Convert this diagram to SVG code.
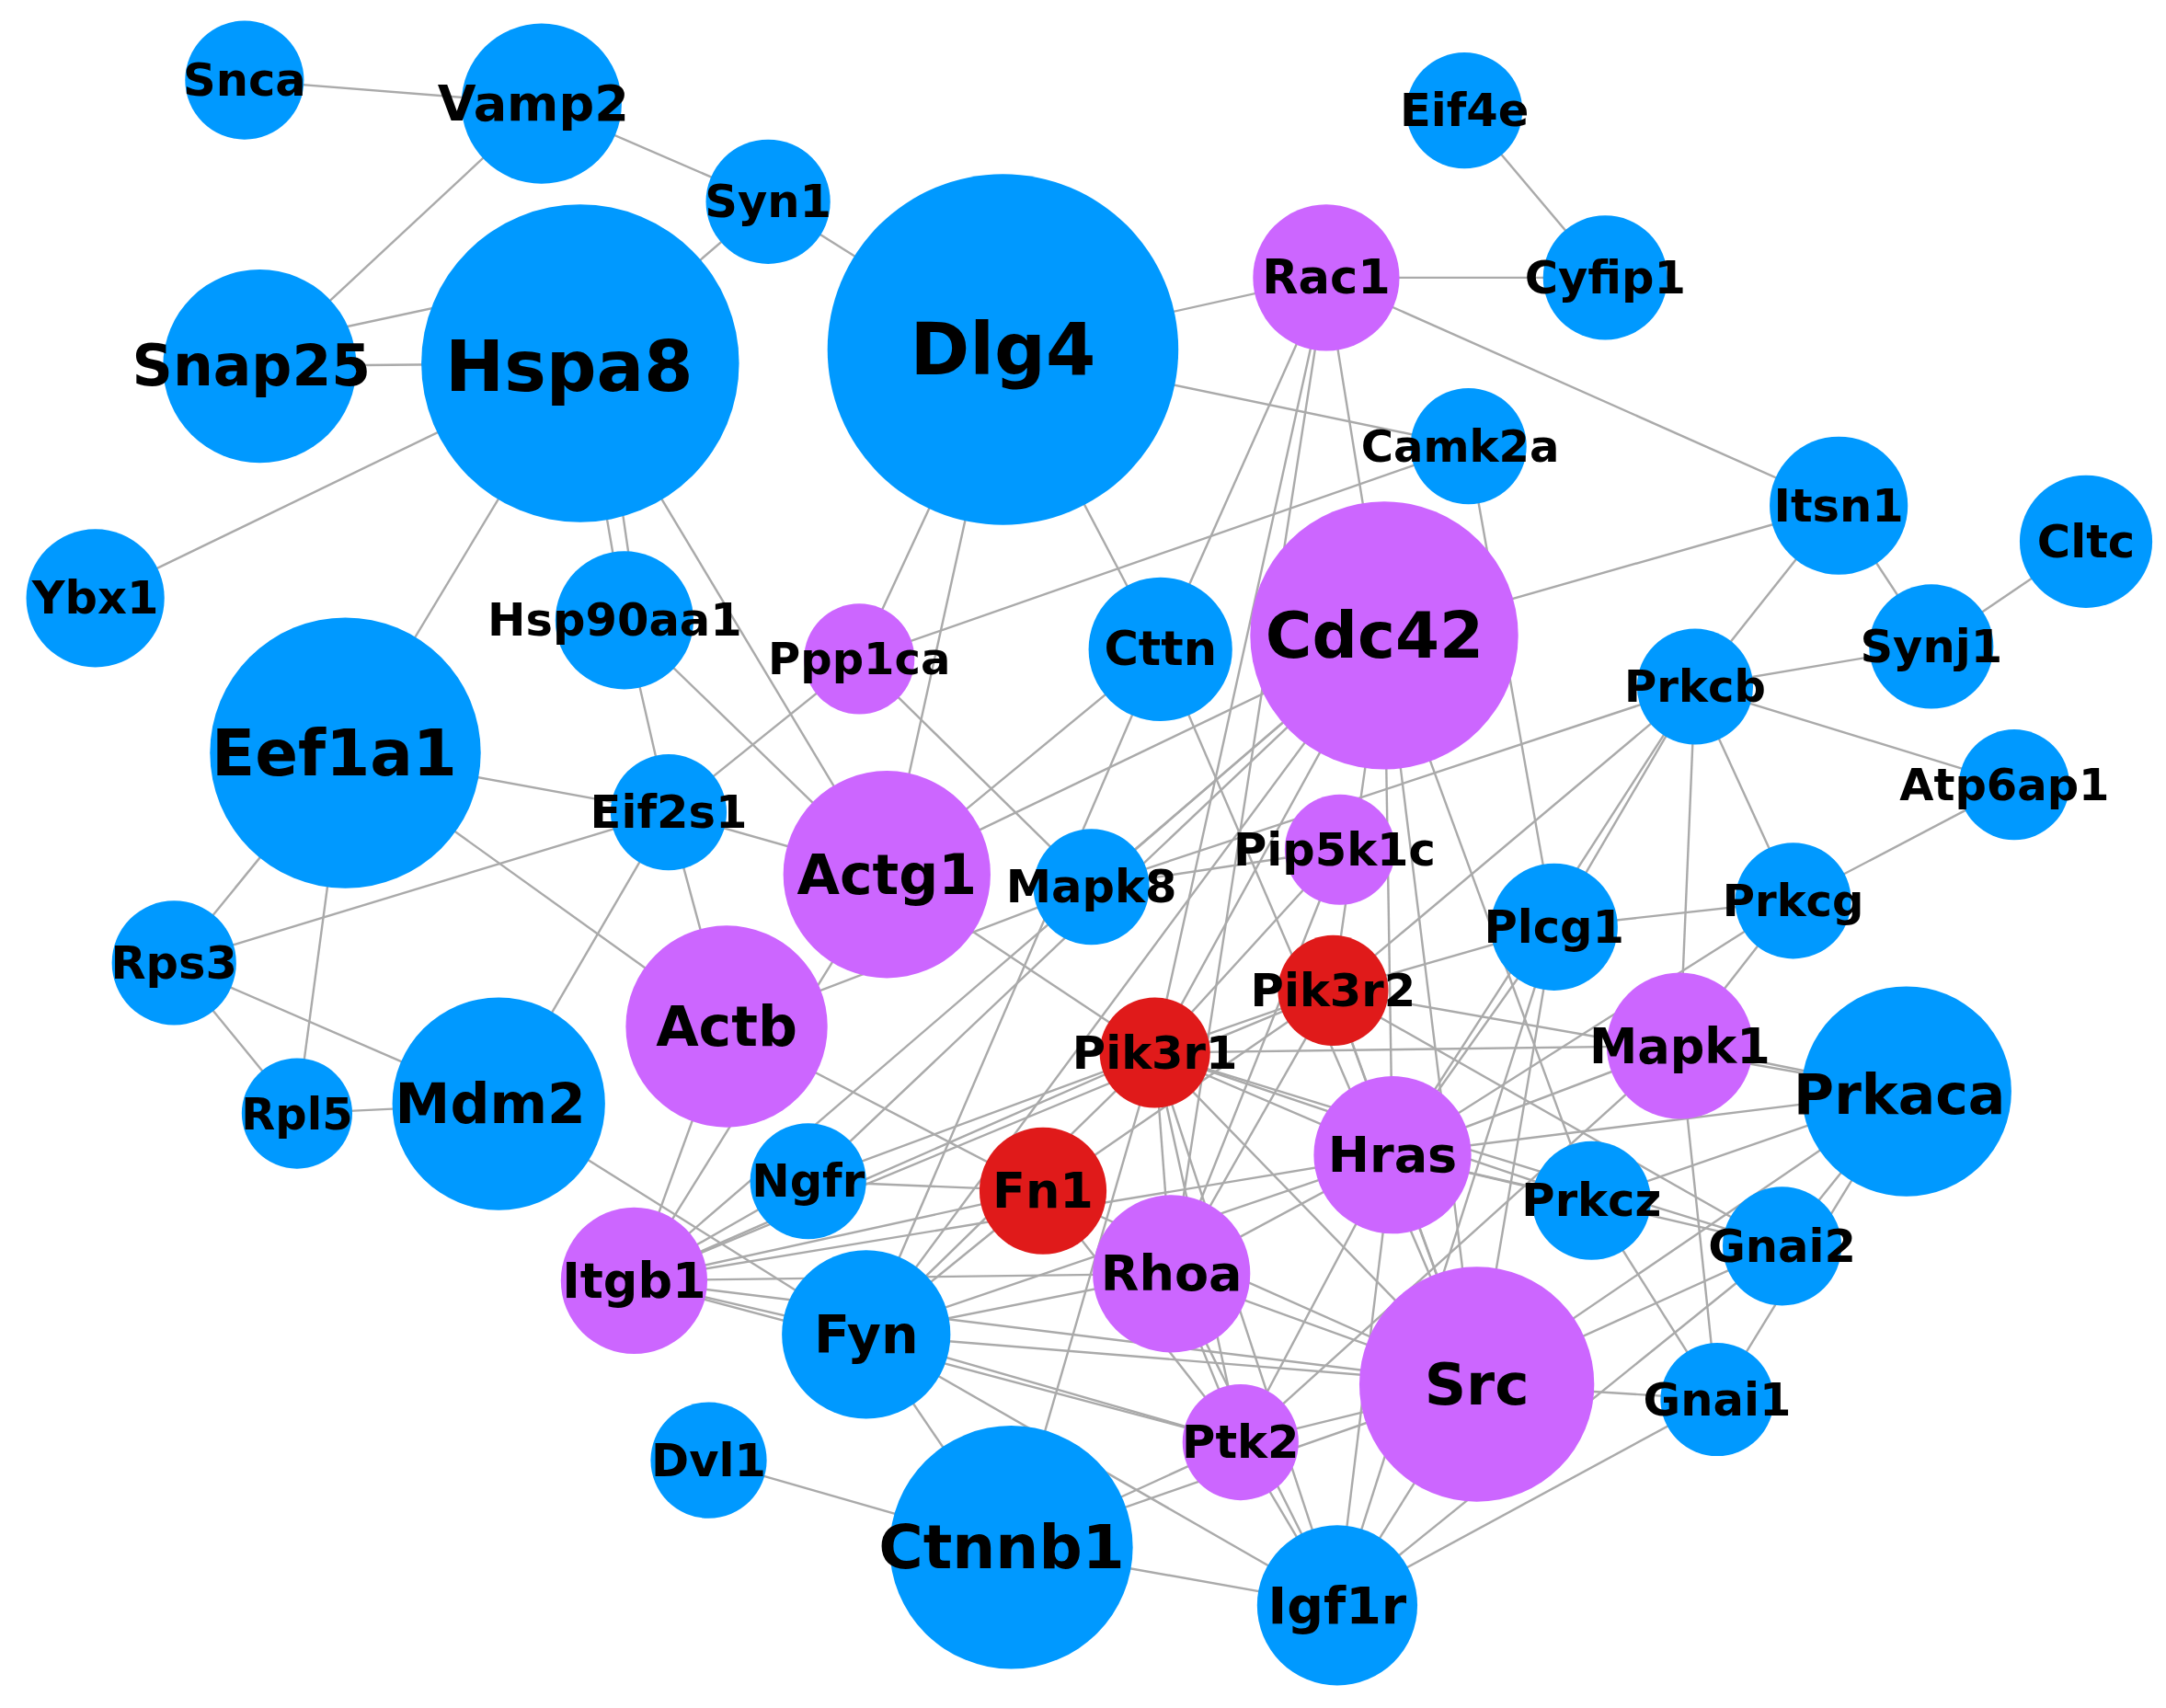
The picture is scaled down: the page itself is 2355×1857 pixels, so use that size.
<svg xmlns="http://www.w3.org/2000/svg" width="2355" height="1857" viewBox="0 0 2355 1857">
<style>
.b{fill:#0099ff}.p{fill:#cc66ff}.r{fill:#e01a1a}
text{font-family:"DejaVu Sans",sans-serif;font-weight:bold;fill:#000;text-anchor:middle;dominant-baseline:central}
#edges line{stroke:#aaaaaa;stroke-width:1.6}
</style>
<rect width="2355" height="1857" fill="#fff"/>
<g transform="scale(1.502)">
<g id="edges">
<line x1="177" y1="58" x2="392" y2="75"/><line x1="392" y1="75" x2="556" y2="146"/><line x1="392" y1="75" x2="188" y2="265"/>
<line x1="556" y1="146" x2="420" y2="263"/><line x1="556" y1="146" x2="726" y2="253"/><line x1="188" y1="265" x2="420" y2="263"/>
<line x1="188" y1="250" x2="420" y2="200"/><line x1="420" y1="263" x2="69" y2="433"/><line x1="420" y1="263" x2="250" y2="545"/>
<line x1="420" y1="263" x2="452" y2="449"/><line x1="435" y1="263" x2="462" y2="449"/><line x1="420" y1="263" x2="642" y2="633"/>
<line x1="1060" y1="80" x2="1162" y2="201"/><line x1="960" y1="201" x2="1162" y2="201"/><line x1="960" y1="201" x2="726" y2="253"/>
<line x1="960" y1="201" x2="1331" y2="366"/><line x1="960" y1="201" x2="1002" y2="460"/><line x1="960" y1="201" x2="836" y2="762"/>
<line x1="960" y1="201" x2="848" y2="922"/><line x1="960" y1="201" x2="840" y2="470"/><line x1="726" y1="253" x2="1063" y2="323"/>
<line x1="726" y1="253" x2="840" y2="470"/><line x1="726" y1="253" x2="622" y2="477"/><line x1="726" y1="253" x2="642" y2="633"/>
<line x1="1063" y1="323" x2="622" y2="477"/><line x1="1063" y1="323" x2="1125" y2="671"/><line x1="1331" y1="366" x2="1002" y2="460"/>
<line x1="1331" y1="366" x2="1398" y2="468"/><line x1="1331" y1="366" x2="1227" y2="497"/><line x1="1510" y1="392" x2="1398" y2="468"/>
<line x1="1398" y1="468" x2="1227" y2="497"/><line x1="1227" y1="497" x2="1458" y2="568"/><line x1="1227" y1="497" x2="1298" y2="652"/>
<line x1="1227" y1="497" x2="1216" y2="757"/><line x1="1227" y1="497" x2="1125" y2="671"/><line x1="1227" y1="497" x2="965" y2="717"/>
<line x1="1227" y1="497" x2="1008" y2="836"/><line x1="1227" y1="497" x2="790" y2="642"/><line x1="1458" y1="568" x2="1298" y2="652"/>
<line x1="1298" y1="652" x2="1125" y2="671"/><line x1="1298" y1="652" x2="1216" y2="757"/><line x1="1298" y1="652" x2="1008" y2="836"/>
<line x1="622" y1="477" x2="484" y2="588"/><line x1="622" y1="477" x2="790" y2="642"/><line x1="452" y1="449" x2="484" y2="588"/>
<line x1="452" y1="449" x2="642" y2="633"/><line x1="250" y1="545" x2="484" y2="588"/><line x1="250" y1="545" x2="126" y2="697"/>
<line x1="250" y1="545" x2="215" y2="806"/><line x1="250" y1="545" x2="526" y2="743"/><line x1="484" y1="588" x2="126" y2="697"/>
<line x1="484" y1="588" x2="526" y2="743"/><line x1="484" y1="588" x2="642" y2="633"/><line x1="484" y1="588" x2="361" y2="799"/>
<line x1="126" y1="697" x2="215" y2="806"/><line x1="126" y1="697" x2="361" y2="799"/><line x1="215" y1="806" x2="361" y2="799"/>
<line x1="361" y1="799" x2="627" y2="966"/><line x1="526" y1="743" x2="459" y2="927"/><line x1="526" y1="743" x2="790" y2="642"/>
<line x1="526" y1="743" x2="755" y2="862"/><line x1="642" y1="633" x2="836" y2="762"/><line x1="642" y1="633" x2="1002" y2="460"/>
<line x1="642" y1="633" x2="459" y2="927"/><line x1="642" y1="633" x2="840" y2="470"/><line x1="840" y1="470" x2="627" y2="966"/>
<line x1="840" y1="470" x2="1069" y2="1002"/><line x1="1002" y1="460" x2="790" y2="642"/><line x1="1002" y1="460" x2="836" y2="762"/>
<line x1="1002" y1="460" x2="965" y2="717"/><line x1="1002" y1="460" x2="1008" y2="836"/><line x1="1002" y1="460" x2="1069" y2="1002"/>
<line x1="1002" y1="460" x2="627" y2="966"/><line x1="1002" y1="460" x2="459" y2="927"/><line x1="1002" y1="460" x2="585" y2="855"/>
<line x1="1002" y1="460" x2="1152" y2="869"/><line x1="970" y1="615" x2="790" y2="642"/><line x1="970" y1="615" x2="848" y2="922"/>
<line x1="970" y1="615" x2="836" y2="762"/><line x1="965" y1="717" x2="1125" y2="671"/><line x1="965" y1="717" x2="836" y2="762"/>
<line x1="965" y1="717" x2="755" y2="862"/><line x1="965" y1="717" x2="1008" y2="836"/><line x1="965" y1="717" x2="1069" y2="1002"/>
<line x1="965" y1="717" x2="848" y2="922"/><line x1="965" y1="717" x2="459" y2="927"/><line x1="965" y1="717" x2="1290" y2="902"/>
<line x1="965" y1="717" x2="1380" y2="790"/><line x1="836" y1="762" x2="585" y2="855"/><line x1="836" y1="762" x2="459" y2="927"/>
<line x1="836" y1="762" x2="627" y2="966"/><line x1="836" y1="762" x2="848" y2="922"/><line x1="836" y1="762" x2="1008" y2="836"/>
<line x1="836" y1="762" x2="1069" y2="1002"/><line x1="836" y1="762" x2="898" y2="1044"/><line x1="836" y1="762" x2="968" y2="1162"/>
<line x1="836" y1="762" x2="1290" y2="902"/><line x1="836" y1="762" x2="1152" y2="869"/><line x1="836" y1="762" x2="1216" y2="757"/>
<line x1="836" y1="762" x2="732" y2="1120"/><line x1="1125" y1="671" x2="1008" y2="836"/><line x1="1125" y1="671" x2="1069" y2="1002"/>
<line x1="1125" y1="671" x2="968" y2="1162"/><line x1="1216" y1="757" x2="1008" y2="836"/><line x1="1216" y1="757" x2="1380" y2="790"/>
<line x1="1216" y1="757" x2="898" y2="1044"/><line x1="1216" y1="757" x2="1243" y2="1013"/><line x1="1380" y1="790" x2="1008" y2="836"/>
<line x1="1380" y1="790" x2="1290" y2="902"/><line x1="1380" y1="790" x2="1243" y2="1013"/><line x1="1380" y1="790" x2="1069" y2="1002"/>
<line x1="1380" y1="790" x2="1152" y2="869"/><line x1="1008" y1="836" x2="1069" y2="1002"/><line x1="1008" y1="836" x2="848" y2="922"/>
<line x1="1008" y1="836" x2="1290" y2="902"/><line x1="1008" y1="836" x2="627" y2="966"/><line x1="1008" y1="836" x2="898" y2="1044"/>
<line x1="1008" y1="836" x2="968" y2="1162"/><line x1="1008" y1="836" x2="1152" y2="869"/><line x1="1008" y1="836" x2="459" y2="927"/>
<line x1="755" y1="862" x2="459" y2="927"/><line x1="755" y1="862" x2="627" y2="966"/><line x1="755" y1="862" x2="1069" y2="1002"/>
<line x1="755" y1="862" x2="898" y2="1044"/><line x1="755" y1="862" x2="585" y2="855"/><line x1="459" y1="927" x2="627" y2="966"/>
<line x1="459" y1="927" x2="1069" y2="1002"/><line x1="459" y1="927" x2="848" y2="922"/><line x1="459" y1="927" x2="898" y2="1044"/>
<line x1="459" y1="927" x2="585" y2="855"/><line x1="627" y1="966" x2="1069" y2="1002"/><line x1="627" y1="966" x2="898" y2="1044"/>
<line x1="627" y1="966" x2="732" y2="1120"/><line x1="627" y1="966" x2="848" y2="922"/><line x1="627" y1="966" x2="968" y2="1162"/>
<line x1="848" y1="922" x2="1069" y2="1002"/><line x1="848" y1="922" x2="898" y2="1044"/><line x1="848" y1="922" x2="968" y2="1162"/>
<line x1="1069" y1="1002" x2="898" y2="1044"/><line x1="1069" y1="1002" x2="968" y2="1162"/><line x1="1069" y1="1002" x2="1243" y2="1013"/>
<line x1="1069" y1="1002" x2="732" y2="1120"/><line x1="898" y1="1044" x2="732" y2="1120"/><line x1="898" y1="1044" x2="968" y2="1162"/>
<line x1="732" y1="1120" x2="513" y2="1057"/><line x1="732" y1="1120" x2="968" y2="1162"/><line x1="1243" y1="1013" x2="968" y2="1162"/>
<line x1="1290" y1="902" x2="968" y2="1162"/><line x1="1290" y1="902" x2="1069" y2="1002"/><line x1="1152" y1="869" x2="1243" y2="1013"/>
</g>
<g id="Snca"><circle class="b" cx="177" cy="58" r="43"/><text x="177" y="58" font-size="33">Snca</text></g>
<g id="Vamp2"><circle class="b" cx="392" cy="75" r="58"/><text x="386" y="75" font-size="36">Vamp2</text></g>
<g id="Syn1"><circle class="b" cx="556" cy="146" r="45"/><text x="556" y="146" font-size="33">Syn1</text></g>
<g id="Eif4e"><circle class="b" cx="1060" cy="80" r="42"/><text x="1060" y="80" font-size="33">Eif4e</text></g>
<g id="Snap25"><circle class="b" cx="188" cy="265" r="70"/><text x="182" y="265" font-size="41">Snap25</text></g>
<g id="Hspa8"><circle class="b" cx="420" cy="263" r="115"/><text x="412" y="265" font-size="51">Hspa8</text></g>
<g id="Dlg4"><circle class="b" cx="726" cy="253" r="127"/><text x="726" y="253" font-size="52">Dlg4</text></g>
<g id="Rac1"><circle class="p" cx="960" cy="201" r="53"/><text x="960" y="201" font-size="34">Rac1</text></g>
<g id="Cyfip1"><circle class="b" cx="1162" cy="201" r="45"/><text x="1162" y="201" font-size="33">Cyfip1</text></g>
<g id="Camk2a"><circle class="b" cx="1063" cy="323" r="42"/><text x="1057" y="323" font-size="32">Camk2a</text></g>
<g id="Itsn1"><circle class="b" cx="1331" cy="366" r="50"/><text x="1331" y="366" font-size="33">Itsn1</text></g>
<g id="Cltc"><circle class="b" cx="1510" cy="392" r="48"/><text x="1510" y="392" font-size="33">Cltc</text></g>
<g id="Ybx1"><circle class="b" cx="69" cy="433" r="50"/><text x="69" y="433" font-size="33">Ybx1</text></g>
<g id="Hsp90aa1"><circle class="b" cx="452" cy="449" r="50"/><text x="445" y="449" font-size="33">Hsp90aa1</text></g>
<g id="Ppp1ca"><circle class="p" cx="622" cy="477" r="40"/><text x="622" y="477" font-size="32">Ppp1ca</text></g>
<g id="Cttn"><circle class="b" cx="840" cy="470" r="52"/><text x="840" y="470" font-size="34">Cttn</text></g>
<g id="Cdc42"><circle class="p" cx="1002" cy="460" r="97"/><text x="995" y="460" font-size="46">Cdc42</text></g>
<g id="Synj1"><circle class="b" cx="1398" cy="468" r="45"/><text x="1398" y="468" font-size="33">Synj1</text></g>
<g id="Prkcb"><circle class="b" cx="1227" cy="497" r="42"/><text x="1227" y="497" font-size="32">Prkcb</text></g>
<g id="Eef1a1"><circle class="b" cx="250" cy="545" r="98"/><text x="242" y="545" font-size="46">Eef1a1</text></g>
<g id="Eif2s1"><circle class="b" cx="484" cy="588" r="42"/><text x="484" y="588" font-size="33">Eif2s1</text></g>
<g id="Actg1"><circle class="p" cx="642" cy="633" r="75"/><text x="642" y="633" font-size="40">Actg1</text></g>
<g id="Mapk8"><circle class="b" cx="790" cy="642" r="42"/><text x="790" y="642" font-size="33">Mapk8</text></g>
<g id="Pip5k1c"><circle class="p" cx="970" cy="615" r="40"/><text x="966" y="615" font-size="33">Pip5k1c</text></g>
<g id="Atp6ap1"><circle class="b" cx="1458" cy="568" r="40"/><text x="1451" y="568" font-size="32">Atp6ap1</text></g>
<g id="Rps3"><circle class="b" cx="126" cy="697" r="45"/><text x="126" y="697" font-size="33">Rps3</text></g>
<g id="Plcg1"><circle class="b" cx="1125" cy="671" r="46"/><text x="1125" y="671" font-size="33">Plcg1</text></g>
<g id="Prkcg"><circle class="b" cx="1298" cy="652" r="42"/><text x="1298" y="652" font-size="32">Prkcg</text></g>
<g id="Pik3r2"><circle class="r" cx="965" cy="717" r="40"/><text x="965" y="717" font-size="33">Pik3r2</text></g>
<g id="Actb"><circle class="p" cx="526" cy="743" r="73"/><text x="526" y="743" font-size="40">Actb</text></g>
<g id="Pik3r1"><circle class="r" cx="836" cy="762" r="40"/><text x="836" y="762" font-size="33">Pik3r1</text></g>
<g id="Mapk1"><circle class="p" cx="1216" cy="757" r="53"/><text x="1216" y="757" font-size="35">Mapk1</text></g>
<g id="Prkaca"><circle class="b" cx="1380" cy="790" r="76"/><text x="1375" y="792" font-size="40">Prkaca</text></g>
<g id="Mdm2"><circle class="b" cx="361" cy="799" r="77"/><text x="355" y="799" font-size="40">Mdm2</text></g>
<g id="Rpl5"><circle class="b" cx="215" cy="806" r="40"/><text x="215" y="806" font-size="32">Rpl5</text></g>
<g id="Hras"><circle class="p" cx="1008" cy="836" r="57"/><text x="1008" y="836" font-size="36">Hras</text></g>
<g id="Ngfr"><circle class="b" cx="585" cy="855" r="42"/><text x="585" y="855" font-size="33">Ngfr</text></g>
<g id="Fn1"><circle class="r" cx="755" cy="862" r="46"/><text x="755" y="862" font-size="35">Fn1</text></g>
<g id="Prkcz"><circle class="b" cx="1152" cy="869" r="43"/><text x="1152" y="869" font-size="33">Prkcz</text></g>
<g id="Gnai2"><circle class="b" cx="1290" cy="902" r="43"/><text x="1290" y="902" font-size="33">Gnai2</text></g>
<g id="Itgb1"><circle class="p" cx="459" cy="927" r="53"/><text x="459" y="927" font-size="35">Itgb1</text></g>
<g id="Rhoa"><circle class="p" cx="848" cy="922" r="57"/><text x="848" y="922" font-size="36">Rhoa</text></g>
<g id="Fyn"><circle class="b" cx="627" cy="966" r="61"/><text x="627" y="966" font-size="38">Fyn</text></g>
<g id="Src"><circle class="p" cx="1069" cy="1002" r="85"/><text x="1069" y="1002" font-size="42">Src</text></g>
<g id="Gnai1"><circle class="b" cx="1243" cy="1013" r="41"/><text x="1243" y="1013" font-size="33">Gnai1</text></g>
<g id="Ptk2"><circle class="p" cx="898" cy="1044" r="42"/><text x="898" y="1044" font-size="33">Ptk2</text></g>
<g id="Dvl1"><circle class="b" cx="513" cy="1057" r="42"/><text x="513" y="1057" font-size="33">Dvl1</text></g>
<g id="Ctnnb1"><circle class="b" cx="732" cy="1120" r="88"/><text x="725" y="1120" font-size="44">Ctnnb1</text></g>
<g id="Igf1r"><circle class="b" cx="968" cy="1162" r="58"/><text x="968" y="1162" font-size="37">Igf1r</text></g>
</g>
</svg>
